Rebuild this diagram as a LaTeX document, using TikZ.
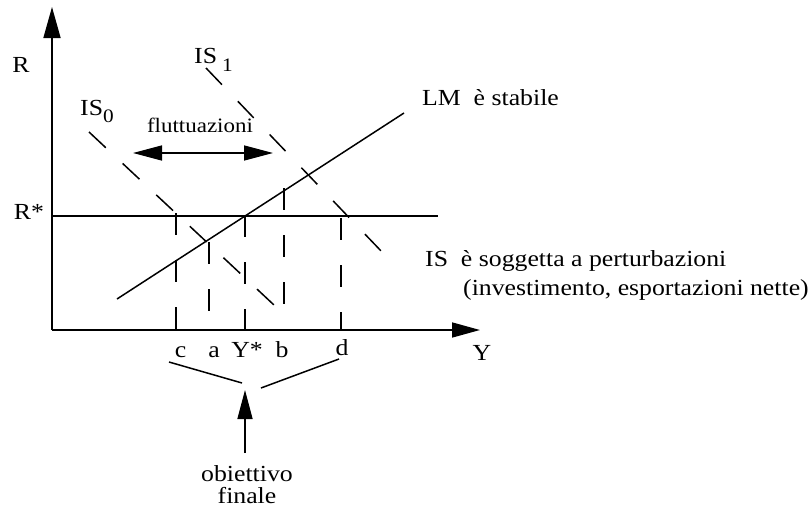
\documentclass[tikz,border=0pt]{standalone}
\usepackage{fontspec}
\setmainfont{Liberation Serif}[FakeStretch=1.12]
\usetikzlibrary{arrows.meta}
\begin{document}
\begin{tikzpicture}[x=1pt,y=-1pt,
  ln/.style={line width=1.5pt},
  isdash/.style={line width=1.5pt,dash pattern=on 23pt off 23pt},
  vdash/.style={line width=1.5pt,dash pattern=on 22pt off 25pt},
  lbl/.style={inner sep=0pt,font=\fontsize{23}{22}\selectfont},
  sub/.style={font=\fontsize{19}{19}\selectfont},
  bigtip/.style={-{Triangle[length=29pt,width=15pt]}},
]
\useasboundingbox (0,0) rectangle (812,512);
% axes
\coordinate (O) at (52,330);
\coordinate (Ytop) at (52,7);
\coordinate (Xend) at (480,330);
\draw[line width=1.6pt,-{Triangle[length=31pt,width=17pt]}] (O) -- (Ytop);
\draw[line width=1.6pt,-{Triangle[length=28pt,width=15pt]}] (O) -- (Xend);
% R* line
\coordinate (Rs0) at (52,216);
\coordinate (Rs1) at (438,216);
\draw[ln] (Rs0) -- (Rs1);
% LM
\coordinate (LM0) at (117,299);
\coordinate (LM1) at (404,113);
\draw[ln] (LM0) -- (LM1);
% IS curves
\coordinate (IS0a) at (89,132);
\coordinate (IS0b) at (274,305);
\coordinate (IS1a) at (206,68);
\coordinate (IS1b) at (383,253);
\draw[isdash] (IS0a) -- (IS0b);
\draw[isdash] (IS1a) -- (IS1b);
% verticals
\coordinate (ct) at (176,213); \coordinate (cb) at (176,330);
\coordinate (at) at (209,242); \coordinate (ab) at (209,312);
\coordinate (yt) at (245,215); \coordinate (yb) at (245,330);
\coordinate (bt) at (284,188); \coordinate (bb) at (284,306);
\coordinate (dt) at (341,218); \coordinate (db) at (341,330);
\draw[vdash] (ct) -- (cb);
\draw[vdash] (at) -- (ab);
\draw[vdash] (yt) -- (yb);
\draw[vdash] (bt) -- (bb);
\draw[vdash] (dt) -- (db);
% fluctuations arrow
\coordinate (fl0) at (133,153);
\coordinate (fl1) at (273,153);
\draw[line width=1.5pt,{Triangle[length=29pt,width=15pt]}-{Triangle[length=29pt,width=15pt]}] (fl0) -- (fl1);
% labels
\node[lbl,anchor=base] (R) at (21,72) {R};
\node[lbl,anchor=base] (Rstar) at (29,219) {R*};
\node[lbl,anchor=base west] (IS0) at (80,115) {IS\raisebox{-7pt}{\fontsize{19}{19}\selectfont 0}};
\node[lbl,anchor=base west] (IS1) at (194,63) {IS\hspace{5pt}\raisebox{-8pt}{\fontsize{19}{19}\selectfont 1}};
\node[lbl,anchor=base,font=\fontsize{20.5}{22}\selectfont] (fl) at (200,132) {fluttuazioni};
\node[lbl,anchor=base west] (LM) at (422,105) {LM\ \ è stabile};
\node[lbl,anchor=base west] (ISt) at (425,266) {IS\ \ è soggetta a perturbazioni};
\node[lbl,anchor=base west] (ISt2) at (463,295) {(investimento, esportazioni nette)};
\node[lbl,anchor=base] (Y) at (482,360) {Y};
\node[lbl,anchor=base] (c) at (180.5,357) {c};
\node[lbl,anchor=base] (a) at (214,357) {a};
\node[lbl,anchor=base] (Ystar) at (247,357) {Y*};
\node[lbl,anchor=base] (b) at (282,357) {b};
\node[lbl,anchor=base] (d) at (342,355) {d};
% bracket lines
\coordinate (br0) at (169,362); \coordinate (br1) at (242,383);
\coordinate (br2) at (261,388); \coordinate (br3) at (339,359);
\draw[ln] (br0) -- (br1);
\draw[ln] (br2) -- (br3);
% objective
\node[lbl,anchor=base] (obj) at (247,481) {obiettivo};
\node[lbl,anchor=base] (fin) at (247,503) {finale};
\coordinate (up0) at (245,453);
\coordinate (up1) at (245,390);
\draw[line width=1.5pt,bigtip] (up0) -- (up1);
\end{tikzpicture}
\end{document}
